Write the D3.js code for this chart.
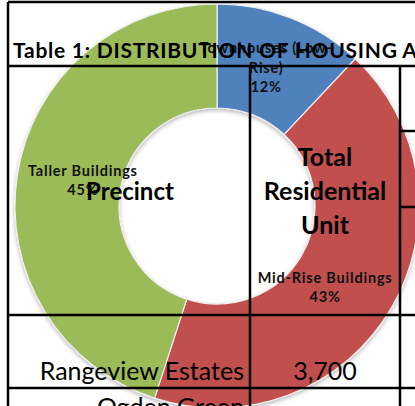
<!DOCTYPE html>
<html><head><meta charset="utf-8">
<script src="https://cdn.jsdelivr.net/npm/d3@7"></script>
<style>html,body{margin:0;padding:0;background:#fff;overflow:hidden}</style>
</head><body><svg id="c" width="415" height="406"></svg>
<script>
const categories = ["Townhouses (Low-Rise)", "Mid-Rise Buildings", "Taller Buildings"];
const values = [12, 43, 45];
const labelLines = [["Townhouses (Low-", "Rise)"], ["Mid-Rise Buildings"], ["Taller Buildings"]];
const colors = ["#4F81BD", "#C0504D", "#9BBB59"];
const tableTitleA = "Table 1: DISTRIBUTION OF HOUSING";
const tableTitleB = " AREAS";
const headers = ["Precinct", "Total Residential Unit"];
const rowLabels = ["Rangeview Estates", "Ogden Green"];
const rowValues = ["3,700", ""];

const svg = d3.select("#c");
const font = "Lato, 'Open Sans', sans-serif";
const cx = 217, cy = 206, rOut = 202, rIn = 98;

const defs = svg.append("defs");
const f = defs.append("filter").attr("id","sh").attr("x","-20%").attr("y","-20%").attr("width","140%").attr("height","140%");
f.append("feDropShadow").attr("dx",0).attr("dy",2).attr("stdDeviation",2).attr("flood-color","#000").attr("flood-opacity",0.28);

const pie = d3.pie().sort(null).value(d => d);
const arcs = pie(values);
const arc = d3.arc().innerRadius(rIn).outerRadius(rOut);
const g = svg.append("g").attr("transform", `translate(${cx},${cy})`);
g.append("g").attr("filter","url(#sh)").selectAll("path").data(arcs).join("path")
  .attr("d", arc).attr("fill", (d,i) => colors[i])
  .attr("stroke", "#eee").attr("stroke-width", 1.2);

// label placement: centroid on a mid-ring arc, nudged like Excel's best-fit
const labelArc = d3.arc().innerRadius(150).outerRadius(150);
const labelNudge = [[-6, 1], [-21, 5], [14, -2]];
const pct = d3.format(".0%");
const total = d3.sum(values);
arcs.forEach((d,i) => {
  const [x0,y0] = labelArc.centroid(d);
  const x = x0 + labelNudge[i][0], y = y0 + labelNudge[i][1];
  const lines = labelLines[i].concat([pct(values[i]/total)]);
  const lh = 19.5;
  const t = g.append("text").attr("text-anchor","middle")
    .attr("font-family", font).attr("font-weight", "bold").attr("font-size", 14.5)
    .attr("letter-spacing", 0.8).attr("fill","#111");
  lines.forEach((s,j) => {
    t.append("tspan").attr("x", x).attr("y", y + (j - (lines.length-1)/2)*lh + 5).text(s);
  });
});

// table overlay
const W = 415;
const lines = svg.append("g").attr("stroke","#000").attr("stroke-width",2.5).attr("fill","none");
const xs = d3.scaleOrdinal().domain(["left","col1","col2"]).range([8, 250, 400]);
const ys = d3.scaleOrdinal().domain(["top","title","row1","row2"]).range([2, 66, 315, 388]);
["top","title","row1","row2"].forEach(k => lines.append("line").attr("x1", xs("left")).attr("x2", W).attr("y1", ys(k)).attr("y2", ys(k)));
lines.append("line").attr("x1", xs("left")).attr("x2", xs("left")).attr("y1", ys("top")).attr("y2", 406);
lines.append("line").attr("x1", xs("col1")).attr("x2", xs("col1")).attr("y1", ys("title")).attr("y2", 406);
lines.append("line").attr("x1", xs("col2")).attr("x2", xs("col2")).attr("y1", ys("title")).attr("y2", 406);
lines.append("line").attr("x1", xs("col2")).attr("x2", W).attr("y1", 131).attr("y2", 131);
lines.append("line").attr("x1", xs("col2")).attr("x2", W).attr("y1", 207).attr("y2", 207);

const tx = svg.append("g").attr("font-family", font).attr("fill","#000");
const tt = tx.append("text").attr("x", 13).attr("y", 58).attr("font-weight","bold").attr("font-size", 21);
tt.append("tspan").attr("textLength", 384).attr("lengthAdjust","spacing").text(tableTitleA);
tt.append("tspan").text(tableTitleB);
tx.append("text").attr("x", 130).attr("y", 200).attr("text-anchor","middle").attr("font-weight","bold").attr("font-size", 24).text(headers[0]);
const hw = headers[1].split(" ");
const ht = tx.append("text").attr("text-anchor","middle").attr("font-weight","bold").attr("font-size", 25);
hw.forEach((w,j) => ht.append("tspan").attr("x", 325).attr("y", 166 + j*34).text(w));
const rowBase = [380, 416];
rowLabels.forEach((s,i) => {
  tx.append("text").attr("x", 244).attr("y", rowBase[i]).attr("text-anchor","end").attr("font-size", 25).text(s);
  tx.append("text").attr("x", 325).attr("y", rowBase[i]).attr("text-anchor","middle").attr("font-size", 25).text(rowValues[i]);
});
</script></body></html>
